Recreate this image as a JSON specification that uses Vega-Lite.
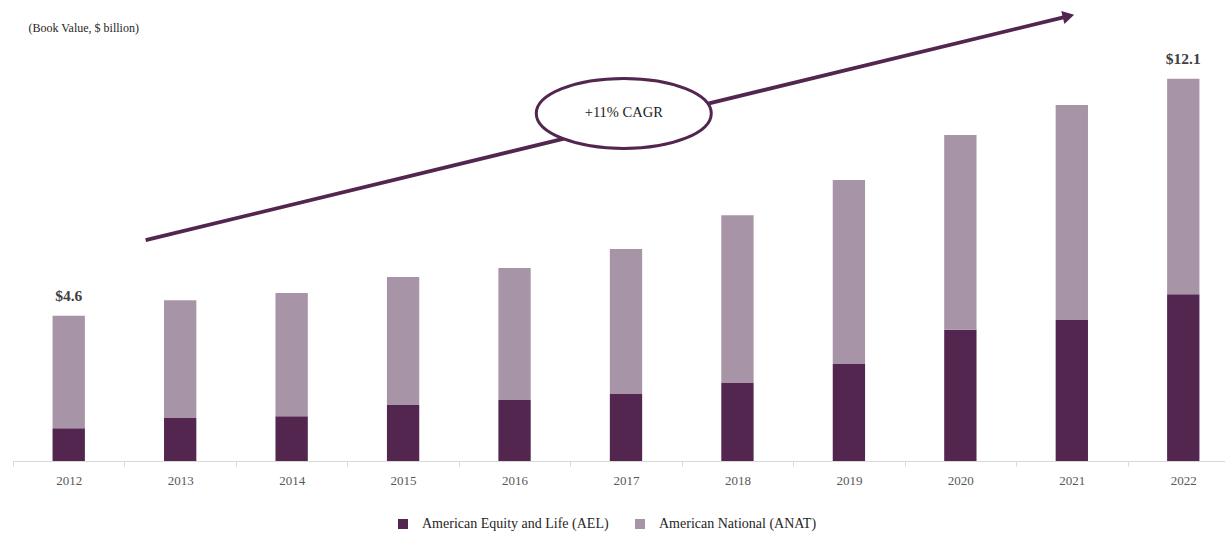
{
  "$schema": "https://vega.github.io/schema/vega-lite/v6.json",
  "width": 1226,
  "height": 461,
  "padding": {"left": 12, "top": 0, "right": 0, "bottom": 0},
  "background": "white",
  "config": {"view": {"stroke": null}, "font": "Liberation Serif"},
  "datasets": {
    "bars": [
      {"year": "2012", "series": "American Equity and Life (AEL)", "value": 1.04},
      {"year": "2012", "series": "American National (ANAT)", "value": 3.56},
      {"year": "2013", "series": "American Equity and Life (AEL)", "value": 1.36},
      {"year": "2013", "series": "American National (ANAT)", "value": 3.73},
      {"year": "2014", "series": "American Equity and Life (AEL)", "value": 1.42},
      {"year": "2014", "series": "American National (ANAT)", "value": 3.9},
      {"year": "2015", "series": "American Equity and Life (AEL)", "value": 1.77},
      {"year": "2015", "series": "American National (ANAT)", "value": 4.05},
      {"year": "2016", "series": "American Equity and Life (AEL)", "value": 1.93},
      {"year": "2016", "series": "American National (ANAT)", "value": 4.18},
      {"year": "2017", "series": "American Equity and Life (AEL)", "value": 2.12},
      {"year": "2017", "series": "American National (ANAT)", "value": 4.59},
      {"year": "2018", "series": "American Equity and Life (AEL)", "value": 2.47},
      {"year": "2018", "series": "American National (ANAT)", "value": 5.31},
      {"year": "2019", "series": "American Equity and Life (AEL)", "value": 3.07},
      {"year": "2019", "series": "American National (ANAT)", "value": 5.82},
      {"year": "2020", "series": "American Equity and Life (AEL)", "value": 4.15},
      {"year": "2020", "series": "American National (ANAT)", "value": 6.17},
      {"year": "2021", "series": "American Equity and Life (AEL)", "value": 4.46},
      {"year": "2021", "series": "American National (ANAT)", "value": 6.81},
      {"year": "2022", "series": "American Equity and Life (AEL)", "value": 5.28},
      {"year": "2022", "series": "American National (ANAT)", "value": 6.82}
    ],
    "totals": [
      {"year": "2012", "total": 4.6, "label": "$4.6"},
      {"year": "2022", "total": 12.1, "label": "$12.1"}
    ],
    "arrow": [
      {"x1": 2012.69, "y1": 6.99, "x2": 2020.97, "y2": 14.08}
    ],
    "ellipse": [
      {"yr": 2016.98, "v": 11.0, "text": "+11% CAGR"}
    ]
  },
  "layer": [
    {
      "layer": [
        {
          "data": {"name": "bars"},
          "mark": {"type": "bar"},
          "encoding": {
            "x": {
              "field": "year", "type": "ordinal",
              "scale": {"paddingInner": 0.71, "paddingOuter": 0.355},
              "axis": {
                "title": null, "labelAngle": 0, "labelFont": "Liberation Serif", "labelFontSize": 13,
                "labelColor": "#595959", "labelPadding": 8, "tickOffset": -55.75, "labelOffset": 55.75, "tickSize": 5,
                "tickColor": "#d9d9d9", "domainColor": "#d9d9d9", "domainWidth": 1
              }
            },
            "y": {
              "field": "value", "type": "quantitative", "stack": "zero",
              "scale": {"domain": [0, 14.59], "nice": false},
              "axis": {
                "title": "(Book Value, $ billion)", "titleAngle": 0, "titleAlign": "left",
                "titleBaseline": "middle", "titleX": 15, "titleY": 27, "titleFont": "Liberation Serif",
                "titleFontSize": 12, "titleFontWeight": "normal", "titleColor": "#262626",
                "labels": false, "ticks": false, "domain": false, "grid": false
              }
            },
            "color": {
              "field": "series", "type": "nominal",
              "scale": {"domain": ["American Equity and Life (AEL)", "American National (ANAT)"], "range": ["#52264F", "#A794A6"]},
              "legend": {
                "title": null, "orient": "none", "legendX": 383, "legendY": 517, "direction": "horizontal", "symbolType": "square",
                "symbolSize": 100, "symbolOpacity": 1, "labelFont": "Liberation Serif", "labelFontSize": 14, "labelLimit": 400,
                "labelColor": "#262626", "columnPadding": 24, "labelOffset": 12
              }
            },
            "order": {"field": "series", "sort": "ascending"}
          }
        },
        {
          "data": {"name": "totals"},
          "mark": {"type": "text", "baseline": "bottom", "dy": -12, "font": "Liberation Serif", "fontSize": 15.5, "fontWeight": "bold", "color": "#404040"},
          "encoding": {
            "x": {"field": "year", "type": "ordinal"},
            "y": {"field": "total", "type": "quantitative"},
            "text": {"field": "label"}
          }
        }
      ]
    },
    {
      "data": {"name": "arrow"},
      "layer": [
        {
          "mark": {"type": "rule", "color": "#52264F", "strokeWidth": 3.8},
          "encoding": {
            "x": {"field": "x1", "type": "quantitative", "scale": {"domain": [2011.5, 2022.5], "nice": false, "zero": false}, "axis": null},
            "x2": {"field": "x2"},
            "y": {"field": "y1", "type": "quantitative"},
            "y2": {"field": "y2"}
          }
        },
        {
          "mark": {"type": "point", "shape": "triangle-right", "filled": true, "color": "#52264F", "opacity": 1, "size": 180, "angle": 346.3},
          "encoding": {
            "x": {"field": "x2", "type": "quantitative", "scale": {"domain": [2011.5, 2022.5], "nice": false, "zero": false}, "axis": null},
            "y": {"field": "y2", "type": "quantitative"}
          }
        }
      ]
    },
    {
      "data": {"name": "ellipse"},
      "layer": [
        {
          "mark": {"type": "point", "shape": "M -1 0 A 1 0.4 0 1 1 1 0 A 1 0.4 0 1 1 -1 0 Z", "filled": true, "fill": "white", "stroke": "#52264F", "strokeWidth": 3, "opacity": 1, "fillOpacity": 1, "size": 30625},
          "encoding": {
            "x": {"field": "yr", "type": "quantitative", "scale": {"domain": [2011.5, 2022.5], "nice": false, "zero": false}, "axis": null},
            "y": {"field": "v", "type": "quantitative"}
          }
        },
        {
          "mark": {"type": "text", "font": "Liberation Serif", "fontSize": 14.5, "color": "#1a1a1a"},
          "encoding": {
            "x": {"field": "yr", "type": "quantitative", "scale": {"domain": [2011.5, 2022.5], "nice": false, "zero": false}, "axis": null},
            "y": {"field": "v", "type": "quantitative"},
            "text": {"field": "text"}
          }
        }
      ]
    }
  ],
  "resolve": {"scale": {"x": "independent"}}
}
